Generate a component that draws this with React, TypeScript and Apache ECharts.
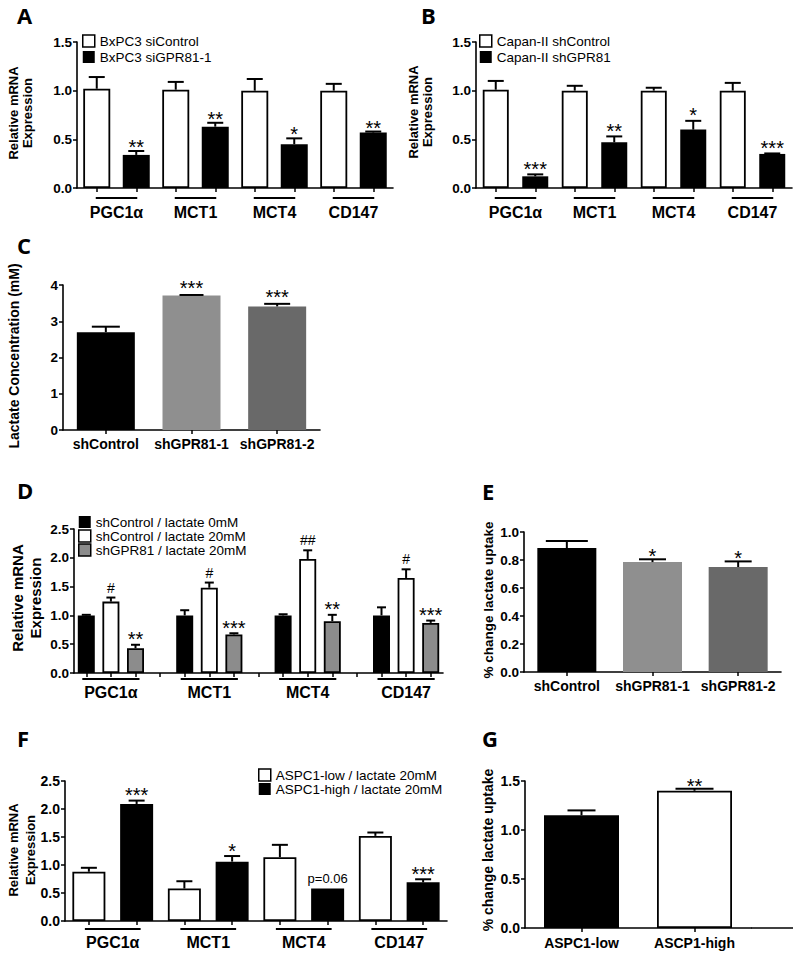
import React, { useEffect, useRef } from "react";
import * as echarts from "echarts";

const FONT = '"Liberation Sans", Arial, Helvetica, sans-serif';
const LETTER_FONT = '"Open Sans", "Liberation Sans", sans-serif';

// ---------------- data ----------------
const genes = ["PGC1α", "MCT1", "MCT4", "CD147"];

// Panel A
const aLegend = ["BxPC3 siControl", "BxPC3 siGPR81-1"];
const aYTicks = [0, 0.5, 1.0, 1.5];
const aCtrl = [1.02, 1.01, 1.0, 1.0];
const aCtrlUp = [1.14, 1.09, 1.12, 1.07];
const aSi = [0.34, 0.63, 0.45, 0.57];
const aSiUp = [0.38, 0.67, 0.51, 0.58];
const aSiSig = ["**", "**", "*", "**"];

// Panel B
const bLegend = ["Capan-II shControl", "Capan-II shGPR81"];
const bYTicks = [0, 0.5, 1.0, 1.5];
const bCtrl = [1.01, 1.0, 1.0, 1.0];
const bCtrlUp = [1.1, 1.05, 1.03, 1.08];
const bSh = [0.12, 0.47, 0.6, 0.35];
const bShUp = [0.14, 0.53, 0.69, 0.355];
const bShSig = ["***", "**", "*", "***"];

// Panel C
const cCats = ["shControl", "shGPR81-1", "shGPR81-2"];
const cYTicks = [0, 1, 2, 3, 4];
const cVals = [2.7, 3.71, 3.41];
const cUp = [2.85, 3.725, 3.48];
const cSig = ["", "***", "***"];

// Panel D
const dLegend = ["shControl / lactate 0mM", "shControl / lactate 20mM", "shGPR81 / lactate 20mM"];
const dYTicks = [0, 0.5, 1.0, 1.5, 2.0, 2.5];
const dCtl0 = [1.0, 1.0, 1.0, 1.0];
const dCtl0Up = [1.01, 1.09, 1.02, 1.14];
const dCtl20 = [1.24, 1.48, 1.98, 1.65];
const dCtl20Up = [1.31, 1.57, 2.13, 1.8];
const dCtl20Sig = ["#", "#", "##", "#"];
const dSh20 = [0.43, 0.67, 0.9, 0.87];
const dSh20Up = [0.49, 0.69, 1.01, 0.91];
const dSh20Sig = ["**", "***", "**", "***"];

// Panel E
const eCats = ["shControl", "shGPR81-1", "shGPR81-2"];
const eYTicks = [0, 0.2, 0.4, 0.6, 0.8, 1.0];
const eVals = [0.885, 0.785, 0.75];
const eUp = [0.935, 0.805, 0.79];
const eSig = ["", "*", "*"];

// Panel F
const fLegend = ["ASPC1-low / lactate 20mM", "ASPC1-high / lactate 20mM"];
const fYTicks = [0, 0.5, 1.0, 1.5, 2.0, 2.5];
const fLow = [0.88, 0.58, 1.14, 1.52];
const fLowUp = [0.95, 0.71, 1.36, 1.58];
const fHigh = [2.09, 1.06, 0.58, 0.69];
const fHighUp = [2.15, 1.16, 0.58, 0.745];
const fHighSig = ["***", "*", "p=0.06", "***"];

// Panel G
const gCats = ["ASPC1-low", "ASCP1-high"];
const gYTicks = [0, 0.5, 1.0, 1.5];
const gVals = [1.15, 1.4];
const gUp = [1.2, 1.42];
const gSig = ["", "**"];

// ---------------- styles ----------------
const BLACK = "#000000";
const WHITE = "#ffffff";
const GREY_D = "#8c8c8c";
const GREY_L = "#8f8f8f";
const GREY_DK = "#696969";

function buildOption() {
  const option: any = {
    animation: false,
    backgroundColor: "#ffffff",
    grid: [],
    xAxis: [],
    yAxis: [],
    series: [],
    legend: [],
    graphic: [],
  };

  const axisLine = { show: true, onZero: false, lineStyle: { color: "#000", width: 1.6 } };
  const axisTick = { show: true, length: 4, lineStyle: { color: "#000", width: 1.5 } };

  function yAxis(idx: number, ticks: number[], dec: number, fontSize: number) {
    return {
      gridIndex: idx,
      type: "value",
      min: ticks[0],
      max: ticks[ticks.length - 1],
      interval: ticks[1] - ticks[0],
      axisLine,
      axisTick,
      splitLine: { show: false },
      axisLabel: {
        color: "#000",
        fontWeight: "bold",
        fontSize,
        fontFamily: FONT,
        margin: 5,
        formatter: (v: number) => v.toFixed(dec),
      },
    };
  }

  function errSeries(idx: number, pts: any[], capW: number | number[], sigGap: number) {
    return {
      type: "custom",
      xAxisIndex: idx,
      yAxisIndex: idx,
      z: 5,
      silent: true,
      clip: false,
      data: pts.map((p) => [p.x, p.v, p.u]),
      renderItem: (params: any, api: any) => {
        const x = api.value(0);
        const v = api.value(1);
        const u = api.value(2);
        const pTop = api.coord([x, v]);
        const pCap = api.coord([x, u]);
        const cw = Array.isArray(capW) ? capW[params.dataIndex] : capW;
        const ch: any[] = [];
        if (u - v > 0.003) {
          ch.push({
            type: "line",
            shape: { x1: pTop[0], y1: pTop[1], x2: pCap[0], y2: pCap[1] },
            style: { stroke: "#000", lineWidth: 2 },
          });
          ch.push({
            type: "line",
            shape: { x1: pCap[0] - cw / 2, y1: pCap[1], x2: pCap[0] + cw / 2, y2: pCap[1] },
            style: { stroke: "#000", lineWidth: 2 },
          });
        }
        const s = pts[params.dataIndex].sig;
        if (s) {
          const star = s.indexOf("*") >= 0;
          const hash = s.indexOf("#") >= 0;
          const fs = star ? 20 : hash ? 14 : 13;
          ch.push({
            type: "text",
            x: pCap[0],
            y: pCap[1] - sigGap + (star ? 0.226 * fs : 0),
            style: {
              text: s,
              fill: "#000",
              fontSize: fs,
              fontFamily: FONT,
              textAlign: "center",
              textVerticalAlign: "middle",
            },
          });
        }
        return { type: "group", children: ch };
      },
    };
  }

  function grouped(
    idx: number,
    geo: any,
    cats: string[],
    sets: any[],
    yTicks: number[],
    o: any
  ) {
    const nS = sets.length;
    const per = nS + (o.gapSlot ? 1 : 0);
    const nSlots = cats.length * per - (o.gapSlot ? 1 : 0);
    const slots = Array.from({ length: nSlots }, (_, k) => "slot" + k);
    option.grid.push({ ...geo, containLabel: false });
    option.xAxis.push({
      gridIndex: idx,
      type: "category",
      data: slots,
      axisLine,
      axisTick: { ...axisTick, alignWithLabel: true, interval: 0 },
      axisLabel: { show: false, interval: 0 },
      splitLine: { show: false },
    });
    option.yAxis.push(yAxis(idx, yTicks, o.yDec, o.yFont));
    sets.forEach((st, s) => {
      option.series.push({
        type: "bar",
        name: st.name,
        xAxisIndex: idx,
        yAxisIndex: idx,
        barWidth: o.barW,
        barGap: "-100%",
        silent: true,
        itemStyle: {
          color: st.fill,
          borderColor: st.stroke || st.fill,
          borderWidth: st.stroke ? 1.8 : 0,
        },
        data: slots.map((_, k) => {
          const g = Math.floor(k / per);
          return k % per === s && g < cats.length ? st.values[g] : null;
        }),
      });
    });
    const pts: any[] = [];
    sets.forEach((st, s) =>
      st.values.forEach((v: number, g: number) =>
        pts.push({ x: g * per + s, v, u: st.upper[g], sig: st.sig ? st.sig[g] : "" })
      )
    );
    option.series.push(errSeries(idx, pts, o.capW, o.sigGap));
    option.series.push({
      type: "custom",
      xAxisIndex: idx,
      yAxisIndex: idx,
      z: 5,
      silent: true,
      clip: false,
      data: cats.map((_, g) => [g * per, g * per + nS - 1, g]),
      renderItem: (params: any, api: any) => {
        const a = api.coord([api.value(0), 0]);
        const b = api.coord([api.value(1), 0]);
        const y = a[1] + o.ulDy;
        return {
          type: "group",
          children: [
            {
              type: "line",
              shape: { x1: a[0] - o.ulExt, y1: y, x2: b[0] + o.ulExt, y2: y },
              style: { stroke: "#000", lineWidth: 2 },
            },
            {
              type: "text",
              x: (a[0] + b[0]) / 2,
              y: a[1] + o.labDy,
              style: {
                text: cats[api.value(2)],
                fill: "#000",
                fontSize: 16,
                fontWeight: "bold",
                fontFamily: FONT,
                textAlign: "center",
                textVerticalAlign: "middle",
              },
            },
          ],
        };
      },
    });
    option.legend.push({
      orient: "vertical",
      left: o.legLeft,
      top: o.legTop,
      padding: 0,
      itemWidth: 12,
      itemHeight: 12,
      itemGap: o.legGap,
      icon: "rect",
      selectedMode: false,
      textStyle: { color: "#000", fontSize: 13.5, fontFamily: FONT },
      data: sets.map((st) => ({
        name: st.name,
        icon: "rect",
        itemStyle: {
          color: st.fill,
          borderColor: st.stroke || st.fill,
          borderWidth: st.stroke ? 1.5 : 0,
        },
      })),
    });
  }

  function simple(
    idx: number,
    geo: any,
    cats: string[],
    values: number[],
    upper: number[],
    sig: string[],
    fills: string[],
    strokes: (string | null)[],
    yTicks: number[],
    o: any
  ) {
    option.grid.push({ ...geo, containLabel: false });
    option.xAxis.push({
      gridIndex: idx,
      type: "category",
      data: cats,
      axisLine,
      axisTick: { ...axisTick, alignWithLabel: true, interval: 0 },
      axisLabel: {
        interval: 0,
        color: "#000",
        fontWeight: "bold",
        fontSize: 14,
        fontFamily: FONT,
        margin: o.labMargin,
      },
      splitLine: { show: false },
    });
    option.yAxis.push(yAxis(idx, yTicks, o.yDec, o.yFont));
    option.series.push({
      type: "bar",
      xAxisIndex: idx,
      yAxisIndex: idx,
      barWidth: o.barW,
      silent: true,
      data: values.map((v, i) => ({
        value: v,
        itemStyle: {
          color: fills[i],
          borderColor: strokes[i] || fills[i],
          borderWidth: strokes[i] ? 1.8 : 0,
        },
      })),
    });
    const pts = values.map((v, i) => ({ x: i, v, u: upper[i], sig: sig[i] }));
    option.series.push(errSeries(idx, pts, o.capW, o.sigGap));
  }

  // A
  grouped(
    0,
    { left: 77, top: 42, width: 316, height: 146 },
    genes,
    [
      { name: aLegend[0], values: aCtrl, upper: aCtrlUp, fill: WHITE, stroke: BLACK },
      { name: aLegend[1], values: aSi, upper: aSiUp, sig: aSiSig, fill: BLACK },
    ],
    aYTicks,
    { gapSlot: false, barW: 27, capW: 16, sigGap: 8.5, ulDy: 10, ulExt: 1, labDy: 24, yDec: 1, yFont: 13.5, legLeft: 82, legTop: 34, legGap: 2 }
  );
  // B
  grouped(
    1,
    { left: 476, top: 42, width: 316, height: 146 },
    genes,
    [
      { name: bLegend[0], values: bCtrl, upper: bCtrlUp, fill: WHITE, stroke: BLACK },
      { name: bLegend[1], values: bSh, upper: bShUp, sig: bShSig, fill: BLACK },
    ],
    bYTicks,
    { gapSlot: false, barW: 26, capW: 16, sigGap: 10, ulDy: 10, ulExt: 1, labDy: 24, yDec: 1, yFont: 13.5, legLeft: 479, legTop: 34, legGap: 2 }
  );
  // C
  simple(
    2,
    { left: 63, top: 285, width: 257, height: 145 },
    cCats,
    cVals,
    cUp,
    cSig,
    [BLACK, GREY_L, GREY_DK],
    [null, null, null],
    cYTicks,
    { barW: 58, capW: [28, 24, 26], sigGap: 11, yDec: 0, yFont: 13.5, labMargin: 7 }
  );
  // D
  grouped(
    3,
    { left: 74, top: 529, width: 369, height: 144 },
    genes,
    [
      { name: dLegend[0], values: dCtl0, upper: dCtl0Up, fill: BLACK },
      { name: dLegend[1], values: dCtl20, upper: dCtl20Up, sig: dCtl20Sig, fill: WHITE, stroke: BLACK },
      { name: dLegend[2], values: dSh20, upper: dSh20Up, sig: dSh20Sig, fill: GREY_D, stroke: BLACK },
    ],
    dYTicks,
    { gapSlot: true, barW: 17, capW: 9, sigGap: 10, ulDy: 6, ulExt: 4, labDy: 19, yDec: 1, yFont: 13.5, legLeft: 78, legTop: 515, legGap: 0 }
  );
  // E
  simple(
    4,
    { left: 524, top: 532, width: 257, height: 140 },
    eCats,
    eVals,
    eUp,
    eSig,
    [BLACK, GREY_L, GREY_DK],
    [null, null, null],
    eYTicks,
    { barW: 59, capW: [42, 27, 27], sigGap: 7.5, yDec: 1, yFont: 13.5, labMargin: 7 }
  );
  // F
  grouped(
    5,
    { left: 65, top: 781, width: 382, height: 140 },
    genes,
    [
      { name: fLegend[0], values: fLow, upper: fLowUp, fill: WHITE, stroke: BLACK },
      { name: fLegend[1], values: fHigh, upper: fHighUp, sig: fHighSig, fill: BLACK },
    ],
    fYTicks,
    { gapSlot: false, barW: 33, capW: 16, sigGap: 10, ulDy: 8, ulExt: 4, labDy: 21, yDec: 1, yFont: 14, legLeft: 258, legTop: 768, legGap: 0 }
  );
  // G
  simple(
    6,
    { left: 525, top: 781, width: 226, height: 147 },
    gCats,
    gVals,
    gUp,
    gSig,
    [BLACK, WHITE],
    [null, BLACK],
    gYTicks,
    { barW: 75, capW: [28, 38], sigGap: 7.5, yDec: 1, yFont: 14, labMargin: 8 }
  );

  // panel letters
  const letters = [
    ["A", 17, 15],
    ["B", 421, 15],
    ["C", 17, 245],
    ["D", 17, 490],
    ["E", 482, 491],
    ["F", 17, 738],
    ["G", 482, 738],
  ];
  letters.forEach(([t, x, y]) =>
    option.graphic.push({
      type: "text",
      x,
      y,
      silent: true,
      style: {
        text: t,
        fill: "#000",
        fontSize: 22,
        fontWeight: "bold",
        fontFamily: LETTER_FONT,
        textAlign: "left",
        textVerticalAlign: "middle",
      },
    })
  );

  // y-axis titles
  const yNames: any[] = [
    ["Relative mRNA\nExpression", 20, 113, 13, 14],
    ["Relative mRNA\nExpression", 420, 112, 13, 14],
    ["Lactate Concentration (mM)", 14, 356, 14, 16],
    ["Relative mRNA\nExpression", 26, 598, 15, 18],
    ["% change lactate uptake", 488, 600, 13.5, 16],
    ["Relative mRNA\nExpression", 22, 850, 13, 17],
    ["% change lactate uptake", 488, 850, 14, 16],
  ];
  yNames.forEach(([t, x, y, fs, lh]) =>
    option.graphic.push({
      type: "text",
      x,
      y,
      rotation: Math.PI / 2,
      silent: true,
      style: {
        text: t,
        fill: "#000",
        fontSize: fs,
        lineHeight: lh,
        fontWeight: "bold",
        fontFamily: FONT,
        textAlign: "center",
        textVerticalAlign: "middle",
      },
    })
  );

  // panel G: x axis line continues beyond the last category
  option.graphic.push({
    type: "line",
    silent: true,
    shape: { x1: 751, y1: 928, x2: 793, y2: 928 },
    style: { stroke: "#000", lineWidth: 1.6 },
  });

  return option;
}

export default function App() {
  const ref = useRef<HTMLDivElement>(null);
  useEffect(() => {
    if (!ref.current) return;
    const chart = echarts.init(ref.current, undefined, { renderer: "svg" });
    chart.setOption(buildOption());
    return () => chart.dispose();
  }, []);
  return (
    <div
      ref={ref}
      style={{ position: "fixed", left: 0, top: 0, width: 800, height: 958, background: "#fff" }}
    />
  );
}
